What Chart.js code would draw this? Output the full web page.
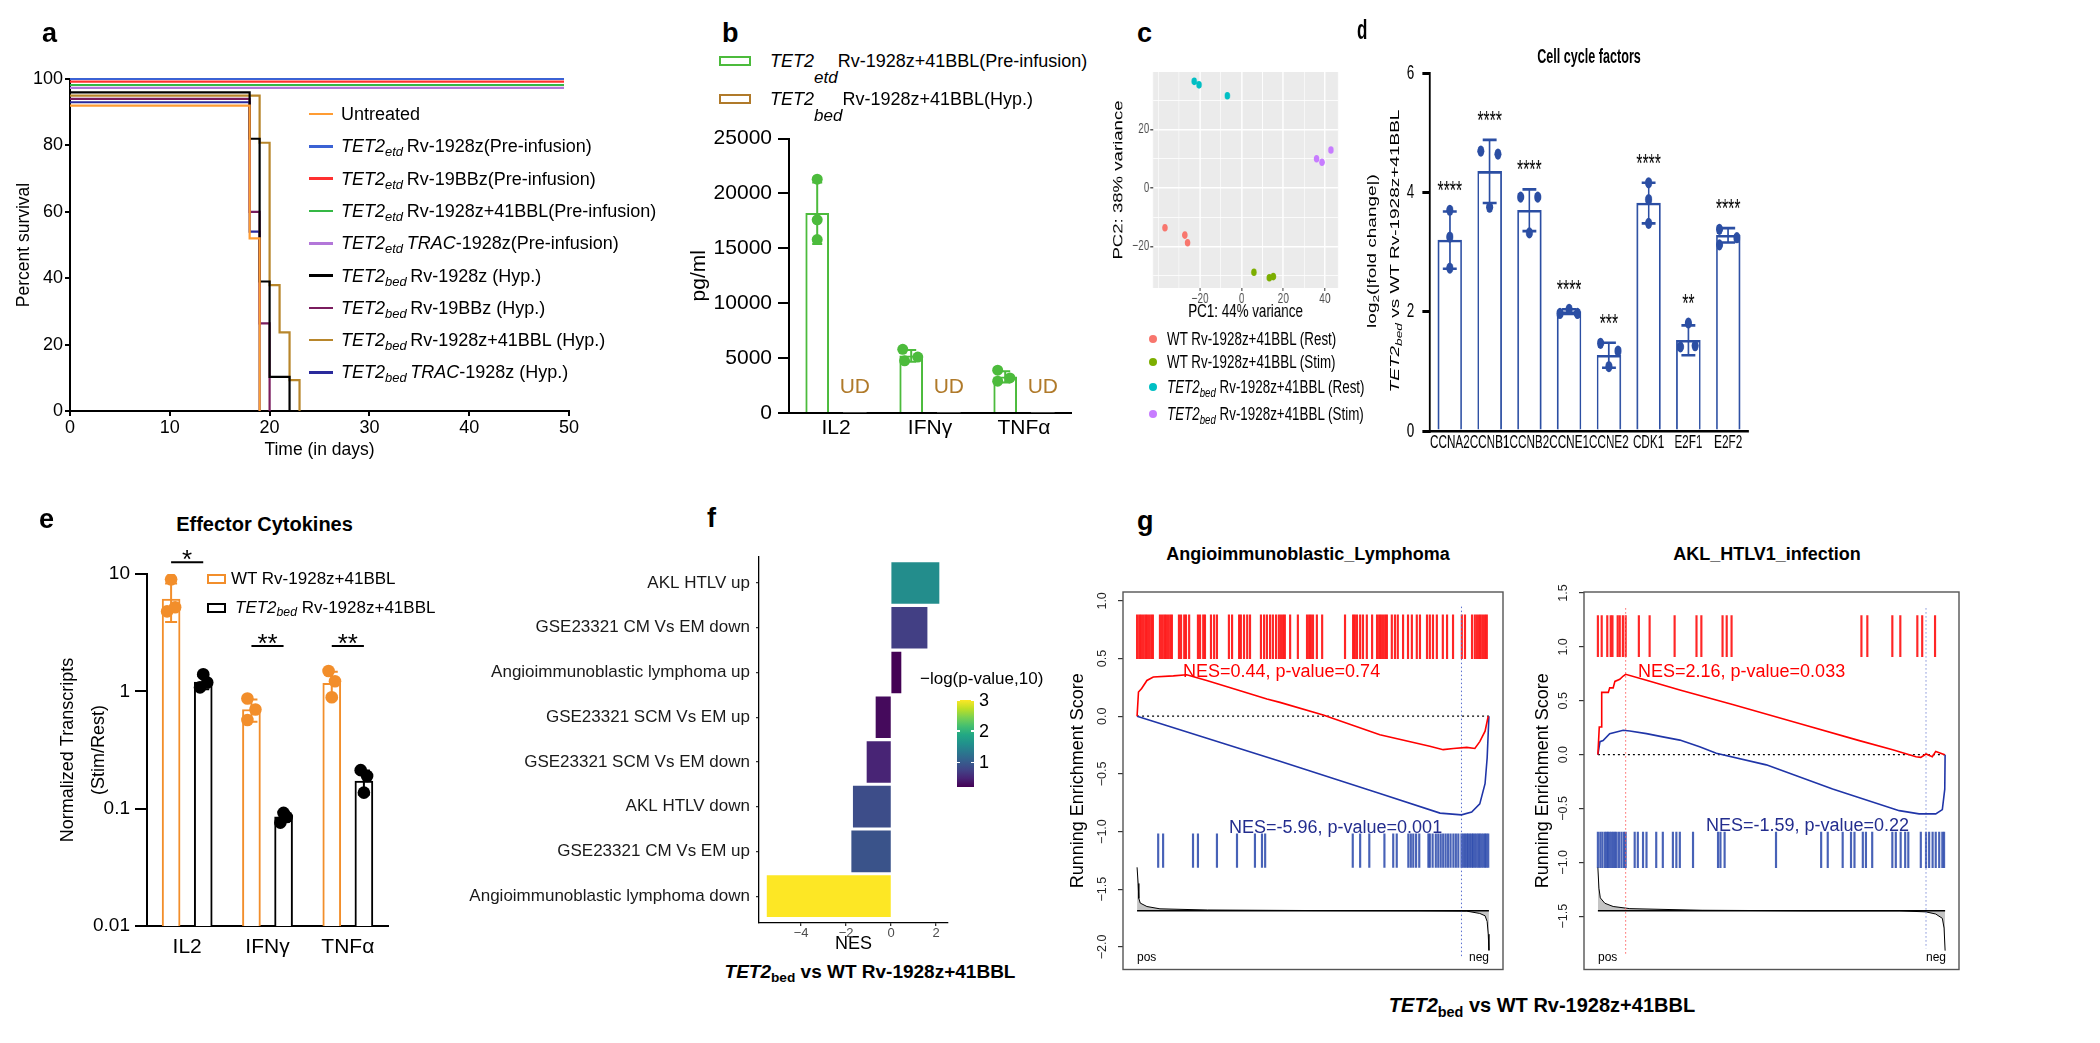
<!DOCTYPE html>
<html>
<head>
<meta charset="utf-8">
<script src="https://cdn.jsdelivr.net/npm/chart.js@4.4.1/dist/chart.umd.min.js"></script>
<style>
  body { margin: 0; background: #fff; }
  #fig { position: relative; width: 2100px; height: 1043px; overflow: hidden; background: #fff;
         font-family: 'Liberation Sans', Arial, sans-serif; color: #000; }
  .t { position: absolute; white-space: nowrap; line-height: 1; z-index: 5; transform-origin: 0 0; }
  .t sub { font-size: 0.72em; vertical-align: -0.32em; line-height: 0; }
  .sw { position: absolute; box-sizing: border-box; z-index: 5; }
</style>
</head>
<body>
<div id="fig"></div>
<script>
// ---------- a: survival ----------
const kmNames = [
  'Untreated',
  '<i>TET2</i><sub><i>etd</i></sub>&thinsp;Rv-1928z(Pre-infusion)',
  '<i>TET2</i><sub><i>etd</i></sub>&thinsp;Rv-19BBz(Pre-infusion)',
  '<i>TET2</i><sub><i>etd</i></sub>&thinsp;Rv-1928z+41BBL(Pre-infusion)',
  '<i>TET2</i><sub><i>etd</i></sub>&thinsp;<i>TRAC</i>-1928z(Pre-infusion)',
  '<i>TET2</i><sub><i>bed</i></sub>&thinsp;Rv-1928z (Hyp.)',
  '<i>TET2</i><sub><i>bed</i></sub>&thinsp;Rv-19BBz (Hyp.)',
  '<i>TET2</i><sub><i>bed</i></sub>&thinsp;Rv-1928z+41BBL (Hyp.)',
  '<i>TET2</i><sub><i>bed</i></sub>&thinsp;<i>TRAC</i>-1928z (Hyp.)'
];
const kmDays = [
  [0, 18, 19],
  [0, 49.5], [0, 49.5], [0, 49.5], [0, 49.5],
  [0, 18, 19, 20, 22],
  [0, 18, 19, 20],
  [0, 19, 20, 21, 22, 23],
  [0, 18, 19]
];
const kmSurv = [
  [92, 52, 0],
  [100, 100], [99.2, 99.2], [98.2, 98.2], [97.3, 97.3],
  [96, 82, 39, 10.3, 0],
  [94, 60, 26.4, 0],
  [95, 80.8, 37.9, 23.7, 9.3, 0],
  [93, 54, 0]
];
const kmTicksX = [0, 10, 20, 30, 40, 50];
const kmTicksY = [0, 20, 40, 60, 80, 100];

// ---------- b: cytokines ----------
const bCats = ['IL2', 'IFNγ', 'TNFα'];
const bPre = [18200, 5200, 3300];
const bPreSd = [2800, 540, 510];
const bPrePts = [[21300, 17600, 15800], [5800, 5100, 4750], [3900, 3200, 2900]];
const bJit = [[0, 0, 0], [-0.09, 0.07, -0.07], [-0.08, 0.05, -0.08]];
const bHyp = [0, 0, 0];
const bHypTxt = ['UD', 'UD', 'UD'];
const bTicks = [0, 5000, 10000, 15000, 20000, 25000];

// ---------- c: PCA ----------
const cGroups = [
  'WT Rv-1928z+41BBL (Rest)',
  'WT Rv-1928z+41BBL (Stim)',
  '<i>TET2</i><sub><i>bed</i></sub> Rv-1928z+41BBL (Rest)',
  '<i>TET2</i><sub><i>bed</i></sub> Rv-1928z+41BBL (Stim)'
];
const cPC1 = [[-36.9, -27.3, -26.0], [5.9, 13.3, 15.2], [-22.8, -20.5, -6.9], [36.0, 38.6, 42.9]];
const cPC2 = [[-13.6, -16.1, -18.7], [-28.8, -30.7, -30.3], [36.5, 35.3, 31.6], [10.0, 8.8, 13.0]];
const cGridX = [-40, -30, -20, -10, 0, 10, 20, 30, 40];
const cGridY = [-30, -20, -10, 0, 10, 20, 30];
const cMajorX = [-20, 0, 20, 40];
const cMajorY = [-20, 0, 20];

// ---------- d: cell cycle ----------
const dGenes = ['CCNA2', 'CCNB1', 'CCNB2', 'CCNE1', 'CCNE2', 'CDK1', 'E2F1', 'E2F2'];
const dMean = [3.2, 4.35, 3.7, 2.0, 1.27, 3.82, 1.52, 3.28];
const dSd = [0.48, 0.53, 0.35, 0.04, 0.21, 0.34, 0.25, 0.12];
const dPts = [[3.70, 3.25, 2.73], [4.69, 4.64, 3.75], [3.92, 3.92, 3.32], [1.97, 2.04, 1.97],
              [1.47, 1.34, 1.08], [4.16, 3.88, 3.48], [1.81, 1.41, 1.43], [3.38, 3.12, 3.24]];
const dJit = [[0, 0, 0], [-0.22, 0.21, 0], [-0.22, 0.21, 0], [-0.23, 0, 0.21],
              [-0.21, 0.23, 0], [0, 0, 0], [0, -0.2, 0.17], [-0.22, -0.22, 0.22]];
const dStars = ['****', '****', '****', '****', '***', '****', '**', '****'];
const dTicks = [0, 2, 4, 6];

// ---------- e: effector cytokines ----------
const eCats = ['IL2', 'IFNγ', 'TNFα'];
const eWT = [6.1, 0.70, 1.17];
const eWTsd = [2.2, 0.15, 0.30];
const eWTpts = [[9.0, 4.8, 5.2], [0.87, 0.70, 0.57], [1.49, 1.22, 0.89]];
const eBed = [1.2, 0.085, 0.172];
const eBedSd = [0.16, 0.008, 0.04];
const eBedPts = [[1.4, 1.08, 1.19], [0.076, 0.092, 0.085], [0.213, 0.19, 0.137]];
const eJitWT = [[0, -0.05, 0.05], [-0.05, 0.05, -0.05], [-0.04, 0.04, 0]];
const eJitBed = [[0, -0.04, 0.05], [-0.04, 0, 0.04], [-0.04, 0.04, 0]];
const eSig = ['*', '**', '**'];
const eSigAt = [12.6, 2.43, 2.43];
const eTicks = [0.01, 0.1, 1, 10];
const eTickLab = ['0.01', '0.1', '1', '10'];

// ---------- f: NES bars ----------
const fTerms = ['AKL HTLV up', 'GSE23321 CM Vs EM down', 'Angioimmunoblastic lymphoma up',
  'GSE23321 SCM Vs EM up', 'GSE23321 SCM Vs EM down', 'AKL HTLV down',
  'GSE23321 CM Vs EM up', 'Angioimmunoblastic lymphoma down'];
const fNes = [2.13, 1.60, 0.44, -0.67, -1.07, -1.68, -1.75, -5.51];
const fLogP = [1.55, 0.72, 0.2, 0.27, 0.48, 0.85, 0.92, 3.0];
const fTicks = [-4, -2, 0, 2];
const fTickLab = ['−4', '−2', '0', '2'];
const fBarTicks = [1, 2, 3];

// ---------- g: GSEA running scores (x = normalised rank) ----------
const gLRedHits = [0, .006, .011, .017, .023, .028, .034, .040, .045, .065, .071, .077, .082, .088, .094, .099,
  .119, .125, .134, .139, .148, .173, .179, .188, .193, .210, .219, .227, .261, .270, .290, .295, .304, .313,
  .321, .352, .361, .369, .378, .386, .395, .403, .409, .415, .420, .435, .457, .483, .489, .494, .500, .511,
  .526, .591, .614, .619, .625, .634, .642, .653, .668, .682, .688, .693, .699, .705, .710, .724, .733, .741,
  .756, .770, .781, .795, .804, .824, .832, .841, .852, .869, .881, .898, .923, .932, .952, .960, .966, .972,
  .977, .983, .989, .994];
const gLBlueHits = [.060, .074, .159, .173, .227, .284, .335, .355, .364, .613, .634, .660, .703, .728, .738,
  .771, .778, .785, .793, .802, .828, .832, .840, .849, .856, .863, .870, .877, .884, .891, .899, .906, .913,
  .922, .927, .932, .937, .941, .946, .951, .955, .960, .965, .970, .974, .979, .984, .989, .993, .998];
const gLRedX = [0, .004, .013, .028, .046, .103, .141, .198, .293, .369, .406, .529, .690, .832, .870, .899, .937, .960, .974, .989, .998];
const gLRedY = [0, .21, .24, .31, .34, .35, .36, .31, .22, .15, .12, .01, -.16, -.26, -.29, -.28, -.27, -.28, -.22, -.13, 0];
const gLBlueX = [0, .406, .690, .861, .922, .951, .974, .989, .995, 1.0];
const gLBlueY = [0, -.39, -.67, -.84, -.855, -.83, -.76, -.585, -.36, 0];
const gLMetX = [0, .003, .005, .009, .028, .065, .2, .5, .8, .937, .974, .989, .995, .998, 1.0];
const gLMetY = [-1.31, -1.45, -1.58, -1.62, -1.65, -1.67, -1.68, -1.685, -1.687, -1.69, -1.71, -1.73, -1.78, -1.89, -2.03];
const gLBase = -1.687, gLPeak = 0.922;
const gLTicks = [-2, -1.5, -1, -0.5, 0, 0.5, 1];
const gLTickLab = ['−2.0', '−1.5', '−1.0', '−0.5', '0.0', '0.5', '1.0'];

const gRRedHits = [0, .011, .027, .037, .042, .057, .063, .072, .080, .118, .149, .221, .284, .298, .359, .371,
  .385, .759, .776, .848, .871, .920, .934, .971];
const gRBlueHits = [0, .007, .013, .020, .025, .029, .034, .039, .044, .049, .054, .061, .068, .075, .080, .106,
  .115, .130, .140, .168, .187, .216, .226, .236, .274, .346, .353, .365, .513, .643, .662, .705, .729, .739,
  .763, .772, .790, .848, .858, .872, .885, .894, .930, .945, .954, .964, .973, .983, .992, .997];
const gRRedX = [0, .004, .011, .011, .030, .034, .044, .049, .063, .073, .080, .140, .236, .388, .580, .753, .849, .916, .930, .945, .963, .973, .999];
const gRRedY = [0, .257, .257, .578, .578, .62, .62, .68, .70, .73, .746, .69, .60, .465, .29, .13, .045, -.02, -.025, .006, -.02, .03, 0];
const gRBlueX = [0, .006, .015, .034, .073, .092, .140, .187, .236, .293, .341, .485, .676, .868, .925, .973, .992, .999, 1.0];
const gRBlueY = [0, .12, .13, .195, .226, .22, .195, .165, .135, .073, .012, -.095, -.32, -.52, -.55, -.55, -.51, -.32, 0];
const gRMetX = [0, .003, .007, .02, .044, .092, .3, .6, .868, .945, .973, .992, .997, 1.0];
const gRMetY = [-1.05, -1.24, -1.33, -1.38, -1.41, -1.43, -1.445, -1.45, -1.45, -1.46, -1.48, -1.52, -1.61, -1.82];
const gRBase = -1.45, gRPeakRed = 0.080, gRPeakBlue = 0.945;
const gRTicks = [-1.5, -1, -0.5, 0, 0.5, 1, 1.5];
const gRTickLab = ['−1.5', '−1.0', '−0.5', '0.0', '0.5', '1.0', '1.5'];

// ---------- styles ----------
const FONT = "'Liberation Sans', Arial, sans-serif";
const kmColors = ['#ff9c33', '#3b62d4', '#ff3030', '#35b845', '#b377d9', '#000000', '#7a1c5e', '#b8862b', '#2a2a9c'];
const GREEN = '#4cbb3c', BROWN = '#b07a2a', ORANGE = '#f28e2b', DBLUE = '#2b4ea3';
const cColors = ['#f8766d', '#7cae00', '#00bfc4', '#c77cff'];
const VIR = ['#440154', '#482475', '#414487', '#355f8d', '#2a788e', '#21918c', '#22a884', '#44bf70', '#7ad151', '#bddf26', '#fde725'];

Chart.defaults.font.family = FONT;
Chart.defaults.color = '#000';

const fig = document.getElementById('fig');

function txt(x, y, html, css, anchor, pre) {
  const d = document.createElement('div');
  d.className = 't';
  d.innerHTML = html;
  const tx = anchor === 'c' ? '-50%' : anchor === 'r' ? '-100%' : '0';
  d.style.cssText = `left:${x}px;top:${y}px;transform:${pre || ''} translate(${tx},-50%);` + (css || '');
  fig.appendChild(d);
  return d;
}
function swatch(x, y, w, h, css) {
  const d = document.createElement('div');
  d.className = 'sw';
  d.style.cssText = `left:${x}px;top:${y}px;width:${w}px;height:${h}px;` + css;
  fig.appendChild(d);
}
function xy(xs, ys) { return xs.map((x, i) => ({x, y: ys[i]})); }
function dots(vals, jit, off) {
  const out = [];
  vals.forEach((arr, i) => arr.forEach((v, j) => out.push({x: i + off + jit[i][j], y: v})));
  return out;
}
function barsAt(vals, off) { return vals.map((v, i) => ({x: i + off, y: v})); }
function hexRgb(h) { return [1, 3, 5].map(k => parseInt(h.substr(k, 2), 16)); }
function viridis(t) {
  t = Math.max(0, Math.min(1, t));
  const f = t * 10, i = Math.min(9, Math.floor(f)), u = f - i;
  const a = hexRgb(VIR[i]), b = hexRgb(VIR[i + 1]);
  return 'rgb(' + a.map((v, k) => Math.round(v + (b[k] - v) * u)).join(',') + ')';
}

// axis helper: graphpad-like solid axes
function axis(o) {
  const tl = o.tl || 0;
  const a = {
    type: o.type, min: o.min, max: o.max, reverse: !!o.reverse,
    offset: o.type === 'category',
    grid: {display: true, drawOnChartArea: false, drawTicks: tl > 0, tickLength: tl, offset: false,
           color: o.tc || '#000', lineWidth: o.lw || 2},
    border: {display: !o.noBorder, color: '#000', width: o.lw || 2},
    ticks: Object.assign({color: o.col || '#000', font: {size: o.fs || 17, family: FONT},
                          padding: o.pad || 0, autoSkip: false, maxRotation: 0, minRotation: 0}, o.tk || {}),
    title: {display: !!o.title, text: o.title || '', color: '#000',
            font: {size: o.tfs || 18, family: FONT, lineHeight: o.tlh || 1.2}, padding: o.tpad || 0}
  };
  if (o.vals) a.afterBuildTicks = s => { s.ticks = o.vals.map(v => ({value: v})); };
  if (o.labels) a.ticks.callback = (v, i) => o.labels[i];
  return a;
}
// category-like x axis built on a linear scale so bars and dots share one mapping
function catAxis(cats, o) {
  return axis(Object.assign({type: 'linear', min: -0.5, max: cats.length - 0.5,
                             vals: cats.map((_, i) => i), labels: cats}, o));
}

// canvas placed so that its plot area lands on plot = [left, top, right, bottom]
function mk(box, plot, cfg, sx) {
  sx = sx || 1;
  const [bx, by, bw, bh] = box, [l, t, r, b] = plot;
  const cv = document.createElement('canvas');
  cv.width = Math.round(bw / sx);
  cv.height = bh;
  cv.style.cssText = `position:absolute;left:${bx}px;top:${by}px;width:${bw}px;height:${bh}px;`;
  fig.appendChild(cv);
  const o = cfg.options;
  o.responsive = false; o.animation = false; o.events = [];
  o.layout = {autoPadding: false, padding: {left: 0, top: t - by, right: (bx + bw - r) / sx, bottom: 0}};
  o.scales.x.afterFit = s => { s.height = by + bh - b; };
  o.scales.y.afterFit = s => { s.width = (l - bx) / sx; };
  o.plugins = Object.assign({legend: {display: false}, tooltip: {enabled: false}}, o.plugins || {});
  return new Chart(cv, cfg);
}

// error bars (mean +/- sd) on bar datasets carrying mean and sd arrays
Chart.register({
  id: 'errBars',
  afterDatasetDraw(chart, args) {
    const ds = chart.data.datasets[args.index];
    if (!ds.sd) return;
    const ctx = chart.ctx, ys = chart.scales[args.meta.yAxisID];
    const c = ds.capW || 6;
    ctx.save();
    ctx.strokeStyle = ds.borderColor;
    ctx.lineWidth = ds.errWidth || 2;
    args.meta.data.forEach((bar, j) => {
      const y1 = ys.getPixelForValue(ds.mean[j] + ds.sd[j]);
      const y2 = ys.getPixelForValue(ds.mean[j] - ds.sd[j]);
      ctx.beginPath();
      ctx.moveTo(bar.x, y1); ctx.lineTo(bar.x, y2);
      ctx.moveTo(bar.x - c, y1); ctx.lineTo(bar.x + c, y1);
      ctx.moveTo(bar.x - c, y2); ctx.lineTo(bar.x + c, y2);
      ctx.stroke();
    });
    ctx.restore();
  }
});

const boxPlot = {id: 'boxPlot', afterDraw(c) {
  const a = c.chartArea, x = c.ctx;
  x.save(); x.strokeStyle = '#555'; x.lineWidth = 1.4;
  x.strokeRect(a.left, a.top, a.right - a.left, a.bottom - a.top); x.restore();
}};
const ggBg = {id: 'ggBg', beforeDraw(c) {
  const a = c.chartArea, x = c.ctx;
  x.save(); x.fillStyle = '#ebebeb'; x.fillRect(a.left, a.top, a.right - a.left, a.bottom - a.top); x.restore();
}};

// ---------- panel a ----------
mk([0, 40, 600, 440], [70, 79, 569, 411], {
  type: 'line',
  data: {datasets: kmDays.map((days, i) => ({
    data: xy(days, kmSurv[i]), borderColor: kmColors[i], borderWidth: 2.2,
    stepped: true, pointRadius: 0, fill: false, clip: false
  }))},
  options: {scales: {
    x: axis({type: 'linear', min: 0, max: 50, vals: kmTicksX, labels: kmTicksX.map(String), tl: 5, fs: 18, pad: 1,
              title: 'Time (in days)', tfs: 17.5, tpad: 19}),
    y: axis({type: 'linear', min: 0, max: 100, vals: kmTicksY, labels: kmTicksY.map(String), tl: 5, fs: 18, pad: 2,
              title: 'Percent survival', tfs: 17.5, tpad: 14})
  }}
});
kmNames.forEach((n, i) => {
  const y = 114 + i * 32.3;
  swatch(309, y - 1.2, 24, 2.5, 'background:' + kmColors[i]);
  txt(341, y, n, 'font-size:18px', 'l');
});

// ---------- panel b ----------
mk([680, 120, 400, 360], [789, 138, 1071, 413], {
  type: 'bar',
  data: {datasets: [
    {type: 'scatter', data: dots(bPrePts, bJit, -0.2),
     backgroundColor: GREEN, borderWidth: 0, pointRadius: 5.5, order: 1},
    {data: barsAt(bPre, -0.2), mean: bPre, sd: bPreSd, capW: 5, borderColor: GREEN, backgroundColor: '#fff',
     borderWidth: 2, barThickness: 23, grouped: false, order: 2},
    {data: barsAt(bHyp, 0.2), borderColor: BROWN, backgroundColor: '#fff',
     borderWidth: 0, barThickness: 23, grouped: false, order: 2}
  ]},
  options: {scales: {
    x: catAxis(bCats, {tl: 0, fs: 21, pad: 3}),
    y: axis({type: 'linear', min: 0, max: 25000, vals: bTicks, labels: bTicks.map(String), tl: 11, fs: 21, pad: 6,
              title: 'pg/ml', tfs: 21, tpad: 7})
  }},
  plugins: [{id: 'ud', afterDatasetsDraw(chart) {
    const meta = chart.getDatasetMeta(2), ys = chart.scales.y, ctx = chart.ctx;
    ctx.save(); ctx.fillStyle = BROWN; ctx.font = '21px ' + FONT;
    ctx.textAlign = 'center'; ctx.textBaseline = 'middle';
    meta.data.forEach((bar, j) => ctx.fillText(bHypTxt[j], bar.x, ys.getPixelForValue(bHyp[j]) - 26));
    ctx.restore();
  }}]
});
swatch(719, 56, 32, 10, 'border:2px solid ' + GREEN);
swatch(719, 94, 32, 10, 'border:2px solid ' + BROWN);
txt(770, 61, '<i>TET2</i><i style="position:relative;top:16px;font-size:17px">etd</i>Rv-1928z+41BBL(Pre-infusion)', 'font-size:18px', 'l');
txt(770, 99, '<i>TET2</i><i style="position:relative;top:16px;font-size:17px">bed</i>Rv-1928z+41BBL(Hyp.)', 'font-size:18px', 'l');

// ---------- panel c ----------
const fmtSigned = v => (v < 0 ? '−' : '') + Math.abs(v);
mk([1100, 60, 250, 270], [1153, 72, 1338, 288], {
  type: 'scatter',
  data: {datasets: cGroups.map((g, i) => ({
    data: xy(cPC1[i], cPC2[i]), backgroundColor: cColors[i], borderWidth: 0, pointRadius: 3.8
  }))},
  options: {scales: {
    x: {type: 'linear', min: -42.6, max: 46.3,
        afterBuildTicks: s => { s.ticks = cGridX.map(v => ({value: v})); },
        grid: {color: '#fff', lineWidth: c => cMajorX.includes(c.tick.value) ? 1.8 : 0.9,
               drawTicks: true, tickLength: 3, tickWidth: 1.2,
               tickColor: c => cMajorX.includes(c.tick.value) ? '#333' : 'rgba(0,0,0,0)'},
        border: {display: false},
        ticks: {callback: v => cMajorX.includes(v) ? fmtSigned(v) : '', color: '#4d4d4d',
                font: {size: 14}, padding: 0, autoSkip: false, maxRotation: 0},
        title: {display: true, text: 'PC1: 44% variance', font: {size: 18.6}, padding: 7}},
    y: {type: 'linear', min: -34.2, max: 39.7,
        afterBuildTicks: s => { s.ticks = cGridY.map(v => ({value: v})); },
        grid: {color: '#fff', lineWidth: c => cMajorY.includes(c.tick.value) ? 1.6 : 0.8,
               drawTicks: true, tickLength: 4, tickWidth: 1.2,
               tickColor: c => cMajorY.includes(c.tick.value) ? '#333' : 'rgba(0,0,0,0)'},
        border: {display: false},
        ticks: {callback: v => cMajorY.includes(v) ? fmtSigned(v) : '', color: '#4d4d4d',
                font: {size: 14}, padding: 1, autoSkip: false},
        title: {display: true, text: 'PC2: 38% variance', font: {size: 18.6}, padding: 15}}
  }},
  plugins: [ggBg]
}, 0.72);
[339, 362, 387, 414].forEach((y, i) => {
  swatch(1149, y - 4, 8, 8, 'border-radius:50%;background:' + cColors[i]);
  txt(1167, y, cGroups[i], 'font-size:18.6px', 'l', 'scaleX(0.72)');
});

// ---------- panel d ----------
mk([1350, 40, 420, 440], [1430, 73, 1748, 431], {
  type: 'bar',
  data: {datasets: [
    {type: 'scatter', data: dots(dPts, dJit, 0),
     backgroundColor: DBLUE, borderWidth: 0, pointRadius: 5.6, order: 1},
    {data: barsAt(dMean, 0), mean: dMean, sd: dSd, capW: 11, errWidth: 2.6, borderColor: DBLUE,
     backgroundColor: '#fff', borderWidth: 2.6, barThickness: 38, grouped: false, order: 2}
  ]},
  options: {scales: {
    x: catAxis(dGenes, {tl: 0, fs: 18.6, pad: 1, lw: 2.6}),
    y: axis({type: 'linear', min: 0, max: 6, vals: dTicks, labels: dTicks.map(String), tl: 12, fs: 21, pad: 13, lw: 3})
  }},
  plugins: [{id: 'starsD', afterDatasetsDraw(chart) {
    const ctx = chart.ctx, ys = chart.scales.y, meta = chart.getDatasetMeta(1);
    ctx.save(); ctx.fillStyle = '#000'; ctx.font = '25px ' + FONT;
    ctx.textAlign = 'center'; ctx.textBaseline = 'alphabetic';
    meta.data.forEach((bar, j) => {
      const top = Math.max(dMean[j] + dSd[j], ...dPts[j]);
      ctx.fillText(dStars[j], bar.x, ys.getPixelForValue(top) - 25 + 14);
    });
    ctx.restore();
  }}]
}, 0.63);
txt(1589, 56, 'Cell cycle factors', 'font-size:20px;font-weight:bold', 'c', 'scaleX(0.63)');
txt(1372, 251, 'log<sub>2</sub>(|fold change|)', 'font-size:19px', 'c', 'scaleX(0.63) rotate(-90deg)');
txt(1395, 251, '<i>TET2</i><sub><i>bed</i></sub> vs WT Rv-1928z+41BBL', 'font-size:19px', 'c', 'scaleX(0.63) rotate(-90deg)');

// ---------- panel e ----------
mk([40, 540, 360, 440], [147, 574, 388, 926], {
  type: 'bar',
  data: {datasets: [
    {type: 'scatter', data: dots(eWTpts, eJitWT, -0.2),
     backgroundColor: ORANGE, borderWidth: 0, pointRadius: 6.3, order: 1},
    {type: 'scatter', data: dots(eBedPts, eJitBed, 0.2),
     backgroundColor: '#000', borderWidth: 0, pointRadius: 6.3, order: 1},
    {data: barsAt(eWT, -0.2), mean: eWT, sd: eWTsd, capW: 6, borderColor: ORANGE, backgroundColor: '#fff',
     borderWidth: 2, barThickness: 18, grouped: false, order: 2},
    {data: barsAt(eBed, 0.2), mean: eBed, sd: eBedSd, capW: 6, borderColor: '#000', backgroundColor: '#fff',
     borderWidth: 2, barThickness: 18, grouped: false, order: 2}
  ]},
  options: {scales: {
    x: catAxis(eCats, {tl: 0, fs: 21, pad: 9}),
    y: axis({type: 'logarithmic', min: 0.01, max: 10, vals: eTicks, labels: eTickLab, tl: 12, fs: 19, pad: 5,
              title: ['Normalized Transcripts', '(Stim/Rest)'], tfs: 18, tlh: 1.72, tpad: 12.5})
  }},
  plugins: [{id: 'sigE', afterDatasetsDraw(chart) {
    const ctx = chart.ctx, ys = chart.scales.y;
    const m1 = chart.getDatasetMeta(2), m2 = chart.getDatasetMeta(3);
    ctx.save(); ctx.strokeStyle = '#000'; ctx.fillStyle = '#000'; ctx.lineWidth = 2;
    ctx.font = '26px ' + FONT; ctx.textAlign = 'center'; ctx.textBaseline = 'alphabetic';
    eSig.forEach((s, i) => {
      const x1 = m1.data[i].x, x2 = m2.data[i].x, y = ys.getPixelForValue(eSigAt[i]);
      ctx.beginPath(); ctx.moveTo(x1, y); ctx.lineTo(x2, y); ctx.stroke();
      ctx.fillText(s, (x1 + x2) / 2, y + 6);
    });
    ctx.restore();
  }}]
});
txt(264.5, 524, 'Effector Cytokines', 'font-size:20px;font-weight:bold', 'c');
swatch(207, 574, 19, 10, 'border:2px solid ' + ORANGE);
swatch(207, 603, 19, 10, 'border:2px solid #000');
txt(231, 578, 'WT Rv-1928z+41BBL', 'font-size:17px', 'l');
txt(235, 607, '<i>TET2</i><sub><i>bed</i></sub> Rv-1928z+41BBL', 'font-size:17px', 'l');

// ---------- panel f ----------
const fMin = Math.min(...fLogP), fMax = Math.max(...fLogP);
mk([420, 540, 540, 420], [759, 550, 948, 923], {
  type: 'bar',
  data: {datasets: [{
    data: fNes.map((v, i) => ({x: v, y: i + 1})),
    backgroundColor: fLogP.map(v => viridis((v - fMin) / (fMax - fMin))),
    borderWidth: 0, barThickness: 41
  }]},
  options: {indexAxis: 'y', scales: {
    x: axis({type: 'linear', min: -5.87, max: 2.53, vals: fTicks, labels: fTickLab, tl: 3, lw: 1.3, tc: '#333',
              fs: 13, col: '#4d4d4d', pad: 0, title: 'NES', tfs: 18, tpad: 5}),
    y: axis({type: 'linear', min: 0.4, max: 8.6, reverse: true, vals: fTerms.map((_, i) => i + 1), labels: fTerms,
              tl: 3, lw: 1.3, tc: '#333', fs: 17, col: '#1a1a1a', pad: 6})
  }}
});
swatch(957, 700, 17, 87, 'background:linear-gradient(to top,' + VIR.join(',') + ')');
txt(920, 678, '−log(p-value,10)', 'font-size:17px', 'l');
fBarTicks.forEach(v => {
  const y = 787 - (v - fMin) / (fMax - fMin) * 87;
  swatch(957, y - 0.6, 3, 1.2, 'background:#fff');
  swatch(971, y - 0.6, 3, 1.2, 'background:#fff');
  txt(979, y, String(v), 'font-size:18px', 'l');
});
txt(870, 971, '<b><i>TET2</i><sub>bed</sub> vs WT Rv-1928z+41BBL</b>', 'font-size:19px', 'c');

// ---------- panel g ----------
function gsea(box, plot, o) {
  const hitW = 1.5;
  return mk(box, plot, {
    type: 'bar',
    data: {datasets: [
      {data: o.redHits.map(p => ({x: p, y: o.redBand})), backgroundColor: 'rgba(255,0,0,0.85)',
       barThickness: hitW, grouped: false, order: 6},
      {data: o.blueHits.map(p => ({x: p, y: o.blueBand})), backgroundColor: 'rgba(40,70,170,0.85)',
       barThickness: hitW, grouped: false, order: 6},
      {type: 'line', data: xy(o.redX, o.redY), borderColor: '#ff0000', borderWidth: 1.6, pointRadius: 0, order: 1},
      {type: 'line', data: xy(o.blueX, o.blueY), borderColor: '#2035a8', borderWidth: 1.6, pointRadius: 0, order: 1},
      {type: 'line', data: xy([0, 1], [0, 0]), borderColor: '#000', borderWidth: 1.3, borderDash: [2, 3],
       pointRadius: 0, order: 3},
      ...o.peaks.map(pk => ({type: 'line', data: xy([pk.x, pk.x], pk.span), borderColor: pk.color,
        borderWidth: 1, borderDash: [1.5, 2.5], pointRadius: 0, order: 3})),
      {type: 'line', data: xy(o.metX, o.metY), borderColor: '#000', borderWidth: 1,
       fill: {value: o.base}, backgroundColor: '#c4c4c4', pointRadius: 0, order: 5},
      {type: 'line', data: xy([0, 1], [o.base, o.base]), borderColor: '#000', borderWidth: 1.5,
       pointRadius: 0, order: 2}
    ]},
    options: {scales: {
      x: {type: 'linear', min: -0.04, max: 1.04, offset: false, ticks: {display: false},
          grid: {display: false}, border: {display: false}},
      y: axis({type: 'linear', min: o.min, max: o.max, vals: o.ticks, labels: o.tickLab, tl: 5, lw: 1.2, tc: '#333',
                fs: 12.5, col: '#222', pad: 3, noBorder: true,
                tk: {minRotation: 90, maxRotation: 90, crossAlign: 'center'},
                title: 'Running Enrichment Score', tfs: 18, tpad: o.tpad})
    }},
    plugins: [boxPlot]
  });
}
gsea([1060, 580, 450, 400], [1123, 592, 1503, 976], {
  redHits: gLRedHits, blueHits: gLBlueHits, redBand: [0.5, 0.88], blueBand: [-1.31, -1.02],
  redX: gLRedX, redY: gLRedY, blueX: gLBlueX, blueY: gLBlueY, metX: gLMetX, metY: gLMetY, base: gLBase,
  peaks: [{x: gLPeak, span: [0.95, -2.08], color: '#5a6fd0'}],
  min: -2.196, max: 1.077, ticks: gLTicks, tickLab: gLTickLab, tpad: 7
});
gsea([1520, 580, 450, 400], [1584, 592, 1959, 976], {
  redHits: gRRedHits, blueHits: gRBlueHits, redBand: [0.91, 1.29], blueBand: [-1.05, -0.72],
  redX: gRRedX, redY: gRRedY, blueX: gRBlueX, blueY: gRBlueY, metX: gRMetX, metY: gRMetY, base: gRBase,
  peaks: [{x: gRPeakRed, span: [1.36, -1.87], color: '#ff6060'}, {x: gRPeakBlue, span: [1.36, -1.8], color: '#8090d8'}],
  min: -1.995, max: 1.51, ticks: gRTicks, tickLab: gRTickLab, tpad: 12
});
txt(1308, 554, 'Angioimmunoblastic_Lymphoma', 'font-size:18px;font-weight:bold', 'c');
txt(1767, 554, 'AKL_HTLV1_infection', 'font-size:18px;font-weight:bold', 'c');
txt(1183, 671, 'NES=0.44, p-value=0.74', 'font-size:18px;color:#ff0000', 'l');
txt(1229, 827, 'NES=-5.96, p-value=0.001', 'font-size:18px;color:#232d8e', 'l');
txt(1638, 671, 'NES=2.16, p-value=0.033', 'font-size:18px;color:#ff0000', 'l');
txt(1706, 825, 'NES=-1.59, p-value=0.22', 'font-size:18px;color:#232d8e', 'l');
txt(1137, 957, 'pos', 'font-size:12px', 'l');
txt(1489, 957, 'neg', 'font-size:12px', 'r');
txt(1598, 957, 'pos', 'font-size:12px', 'l');
txt(1946, 957, 'neg', 'font-size:12px', 'r');
txt(1542, 1005, '<b><i>TET2</i><sub>bed</sub> vs WT Rv-1928z+41BBL</b>', 'font-size:20px', 'c');

// ---------- panel letters ----------
[['a', 42, 33], ['b', 722, 33], ['c', 1137, 33], ['e', 39, 519], ['f', 707, 518], ['g', 1137, 521]]
  .forEach(([s, x, y]) => txt(x, y, s, 'font-size:27px;font-weight:bold', 'l'));
txt(1357, 30, 'd', 'font-size:27px;font-weight:bold', 'l', 'scaleX(0.63)');
</script>
</body>
</html>
